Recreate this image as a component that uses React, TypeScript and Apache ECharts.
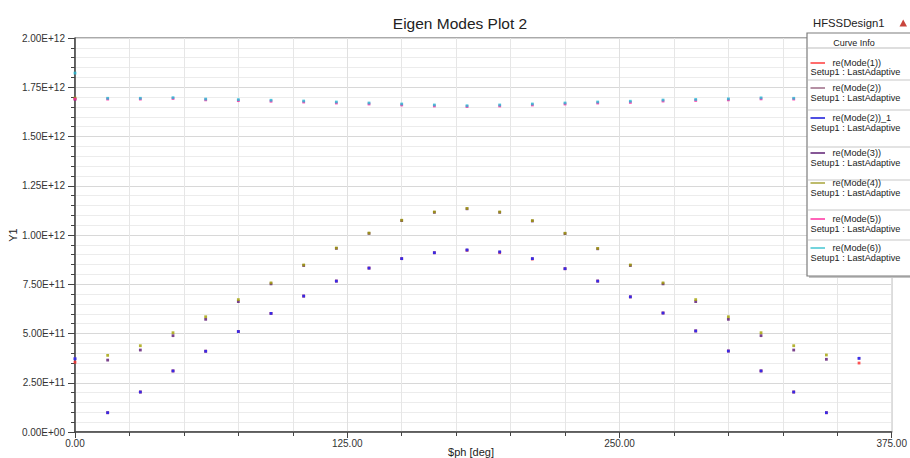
import React, { useEffect, useRef } from "react";
import * as echarts from "echarts";

// phase in degrees
const phaseDeg = [0, 15, 30, 45, 60, 75, 90, 105, 120, 135, 150, 165, 180, 195, 210, 225, 240, 255, 270, 285, 300, 315, 330, 345, 360];

// eigen frequencies, in units of 1E+12
const mode1 = [0.354, 0.098, 0.203, 0.310, 0.410, 0.510, 0.602, 0.690, 0.766, 0.832, 0.880, 0.910, 0.922, 0.910, 0.878, 0.829, 0.766, 0.686, 0.604, 0.513, 0.411, 0.310, 0.203, 0.098, 0.350];
const mode2 = [0.372, 0.098, 0.203, 0.310, 0.410, 0.510, 0.602, 0.690, 0.766, 0.832, 0.880, 0.910, 0.924, 0.914, 0.880, 0.829, 0.766, 0.686, 0.604, 0.513, 0.411, 0.310, 0.203, 0.098, 0.374];
const mode2b = [0.372, 0.098, 0.203, 0.310, 0.410, 0.510, 0.602, 0.690, 0.766, 0.832, 0.880, 0.910, 0.924, 0.914, 0.880, 0.829, 0.766, 0.686, 0.604, 0.513, 0.411, 0.310, 0.203, 0.098, 0.374];
const mode3 = [1.690, 0.365, 0.416, 0.489, 0.572, 0.662, 0.752, 0.845, 0.932, 1.008, 1.073, 1.115, 1.133, 1.115, 1.071, 1.007, 0.930, 0.845, 0.752, 0.662, 0.572, 0.489, 0.416, 0.369, 1.690];
const mode4 = [1.695, 0.389, 0.438, 0.504, 0.585, 0.672, 0.757, 0.848, 0.934, 1.010, 1.075, 1.117, 1.135, 1.117, 1.073, 1.009, 0.932, 0.848, 0.757, 0.672, 0.585, 0.504, 0.438, 0.391, 1.695];
const mode5 = [1.690, 1.690, 1.690, 1.693, 1.686, 1.682, 1.679, 1.675, 1.670, 1.665, 1.660, 1.655, 1.652, 1.655, 1.660, 1.665, 1.670, 1.673, 1.680, 1.683, 1.686, 1.691, 1.690, 1.690, 1.690];
const mode6 = [1.822, 1.694, 1.694, 1.697, 1.690, 1.687, 1.684, 1.680, 1.675, 1.670, 1.665, 1.660, 1.656, 1.660, 1.665, 1.670, 1.675, 1.679, 1.685, 1.688, 1.691, 1.696, 1.694, 1.695, 1.822];

const seriesNames = ["re(Mode(1))", "re(Mode(2))", "re(Mode(2))_1", "re(Mode(3))", "re(Mode(4))", "re(Mode(5))", "re(Mode(6))"];
const seriesValues = [mode1, mode2, mode2b, mode3, mode4, mode5, mode6];
const pointColors = ["#ff2a2a", "#9a6a8a", "#1a1aff", "#5a1470", "#a3a000", "#ff1e9c", "#22bcd6"];
const lineColors = ["#ff3b3b", "#9c6b86", "#1414d8", "#5e1f73", "#a7a53a", "#ff2fa0", "#45c6d2"];

const xMin = 0;
const xMax = 375;
const xStep = 125;
const yMin = 0;
const yMax = 2e12;
const yStep = 0.25e12;
const unit = 1e12;

// legend layout (text baselines measured from reference)
const legendNameY = [63, 88, 118, 153, 183, 219, 248];
const legendSetupY = [72, 98, 128, 162.5, 192.5, 229, 258];
const legendSepY = [48, 80, 110, 147, 180, 210, 240];

const FONT = "'Liberation Sans', Arial, sans-serif";

function sci(v: number): string {
  if (v === 0) return "0.00E+00";
  const e = Math.floor(Math.log10(Math.abs(v)) + 1e-9);
  const m = v / Math.pow(10, e);
  return m.toFixed(2) + "E" + (e >= 0 ? "+" : "-") + String(Math.abs(e)).padStart(2, "0");
}

export default function App() {
  const ref = useRef<HTMLDivElement>(null);
  useEffect(() => {
    const chart = echarts.init(ref.current!, null, { renderer: "svg" });

    const series = seriesNames.map((name, i) => ({
      name,
      type: "scatter",
      symbol: "rect",
      symbolSize: 2.8,
      itemStyle: { color: pointColors[i] },
      z: 2 + i,
      data: phaseDeg.map((p, k) => [p, seriesValues[i][k] * unit]),
    }));

    const legendEls: any[] = [];
    legendEls.push({
      type: "rect",
      shape: { x: 809, y: 35, width: 120, height: 243 },
      style: { fill: "#c4c4c4" },
      z: 100,
    });
    legendEls.push({
      type: "rect",
      shape: { x: 807, y: 33, width: 120, height: 243 },
      style: { fill: "#ffffff", stroke: "#7c7c7c", lineWidth: 1.2 },
      z: 101,
    });
    legendEls.push({
      type: "text",
      x: 854,
      y: 42.5,
      style: { text: "Curve Info", font: `9px ${FONT}`, fill: "#222", align: "center", verticalAlign: "middle" },
      z: 102,
    });
    legendSepY.forEach((y, i) => {
      legendEls.push({
        type: "line",
        shape: { x1: 808, y1: y, x2: 910, y2: y },
        style: { stroke: i === 0 ? "#bdbdbd" : "#dadada", lineWidth: i === 0 ? 1 : 1.5 },
        z: 102,
      });
    });
    seriesNames.forEach((name, i) => {
      legendEls.push({
        type: "line",
        shape: { x1: 810.5, y1: legendNameY[i], x2: 825, y2: legendNameY[i] },
        style: { stroke: lineColors[i], lineWidth: 1.5 },
        z: 102,
      });
      legendEls.push({
        type: "text",
        x: 832.5,
        y: legendNameY[i],
        style: { text: name, font: `9.2px ${FONT}`, fill: "#222", align: "left", verticalAlign: "middle" },
        z: 102,
      });
      legendEls.push({
        type: "text",
        x: 810.5,
        y: legendSetupY[i],
        style: { text: "Setup1 : LastAdaptive", font: `9.2px ${FONT}`, fill: "#222", align: "left", verticalAlign: "middle" },
        z: 102,
      });
    });

    const option: any = {
      animation: false,
      backgroundColor: "#ffffff",
      textStyle: { fontFamily: FONT },
      grid: {
        left: 75,
        right: 16,
        top: 38,
        bottom: 26,
        show: true,
        borderColor: "#555",
        borderWidth: 1,
        backgroundColor: "#ffffff",
      },
      xAxis: {
        type: "value",
        min: xMin,
        max: xMax,
        interval: xStep,
        axisLine: { show: true, lineStyle: { color: "#444", width: 1.5 } },
        axisTick: { show: true, length: 6, lineStyle: { color: "#444" } },
        minorTick: { show: true, splitNumber: 5, length: 4, lineStyle: { color: "#444" } },
        splitLine: { show: true, lineStyle: { color: "#e0e0e0", width: 1 } },
        minorSplitLine: { show: true, lineStyle: { color: "#e6e6e6", width: 1 } },
        axisLabel: {
          formatter: (v: number) => v.toFixed(2),
          fontSize: 10,
          color: "#333",
          margin: 6,
          fontFamily: FONT,
        },
      },
      yAxis: {
        type: "value",
        min: yMin,
        max: yMax,
        interval: yStep,
        axisLine: { show: true, lineStyle: { color: "#444", width: 1.5 } },
        axisTick: { show: true, length: 7, lineStyle: { color: "#444" } },
        minorTick: { show: true, splitNumber: 5, length: 4, lineStyle: { color: "#444" } },
        splitLine: { show: true, lineStyle: { color: "#d8d8d8", width: 1.2 } },
        minorSplitLine: { show: true, lineStyle: { color: "#ececec", width: 1 } },
        axisLabel: {
          formatter: (v: number) => sci(v),
          fontSize: 10,
          color: "#333",
          margin: 10,
          fontFamily: FONT,
        },
      },
      series,
      graphic: [
        {
          type: "text",
          x: 460,
          y: 23,
          style: { text: "Eigen Modes Plot 2", font: `15.5px ${FONT}`, fill: "#222", align: "center", verticalAlign: "middle" },
        },
        {
          type: "text",
          x: 813,
          y: 23,
          style: { text: "HFSSDesign1", font: `11.3px ${FONT}`, fill: "#222", align: "left", verticalAlign: "middle" },
        },
        {
          type: "polygon",
          shape: { points: [[899.5, 26.5], [907, 26.5], [903.2, 19.5]] },
          style: { fill: "#c8443c" },
        },
        {
          type: "text",
          x: 471,
          y: 452,
          style: { text: "$ph [deg]", font: `11px ${FONT}`, fill: "#222", align: "center", verticalAlign: "middle" },
        },
        {
          type: "text",
          x: 12.5,
          y: 235,
          rotation: Math.PI / 2,
          style: { text: "Y1", font: `11px ${FONT}`, fill: "#222", align: "center", verticalAlign: "middle" },
        },
        ...legendEls,
      ],
    };

    chart.setOption(option);
    return () => chart.dispose();
  }, []);

  return (
    <div
      ref={ref}
      style={{ position: "fixed", left: 0, top: 0, width: 910, height: 458, background: "#fff" }}
    />
  );
}
